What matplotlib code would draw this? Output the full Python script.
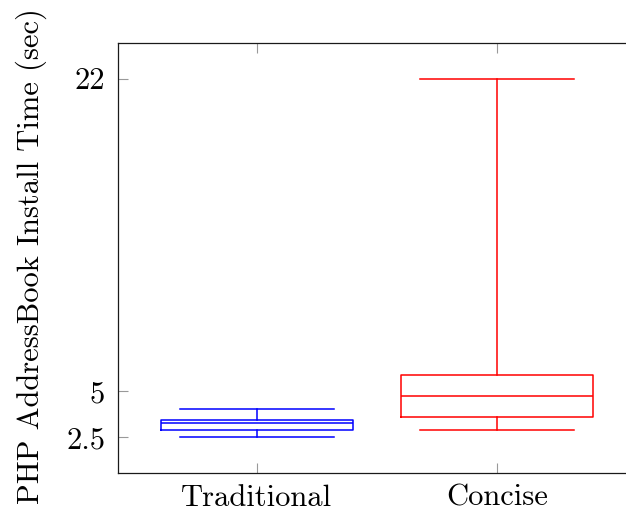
import matplotlib
matplotlib.use('Agg')
import matplotlib.pyplot as plt

plt.rcParams.update({'font.family': 'serif', 'font.serif': ['cmr10', 'DejaVu Serif'],
                     'mathtext.fontset': 'cm', 'axes.formatter.use_mathtext': True,
                     'font.size': 22})

# box stats (seconds)
labels = ['Traditional', 'Concise']
colors = ['blue', 'red']
whis_lo = [2.54, 2.89]
q1 = [2.89, 3.59]
med = [3.29, 4.77]
q3 = [3.45, 5.87]
whis_hi = [4.03, 22.0]
yticks = [2.5, 5, 22]
ytick_labels = ['2.5', '5', '22']

fig = plt.figure(figsize=(6.26, 5.15), dpi=100)
# the right edge of the axes lies past the figure (cropped in the original)
ax = fig.add_axes([0.188, 0.0808, 0.8286, 0.8363])

for i in range(len(labels)):
    st = [dict(med=med[i], q1=q1[i], q3=q3[i], whislo=whis_lo[i], whishi=whis_hi[i], fliers=[])]
    c = colors[i]
    ax.bxp(st, positions=[i + 1], widths=0.8, capwidths=0.64, showfliers=False,
           boxprops=dict(color=c, lw=1.1), medianprops=dict(color=c, lw=1.1),
           whiskerprops=dict(color=c, lw=1.1), capprops=dict(color=c, lw=1.1),
           manage_ticks=False)

ax.set_xlim(0.42, 2.58)
ax.set_ylim(0.55, 23.95)
ax.set_xticks([1, 2])
ax.set_xticklabels(labels)
ax.set_yticks(yticks)
ax.set_yticklabels(ytick_labels)
ax.tick_params(direction='in', length=7, width=0.8, color='0.6', top=True, right=True)
ax.tick_params(axis='y', pad=9)
ax.tick_params(axis='x', pad=8)
for sp in ax.spines.values():
    sp.set_linewidth(0.9)
    sp.set_color('0.1')
ax.spines['right'].set_visible(False)

ax.set_ylabel('PHP AddressBook Install Time (sec)')
ax.yaxis.set_label_coords(-0.136, 0.505)

plt.savefig('out.png', dpi=100)
